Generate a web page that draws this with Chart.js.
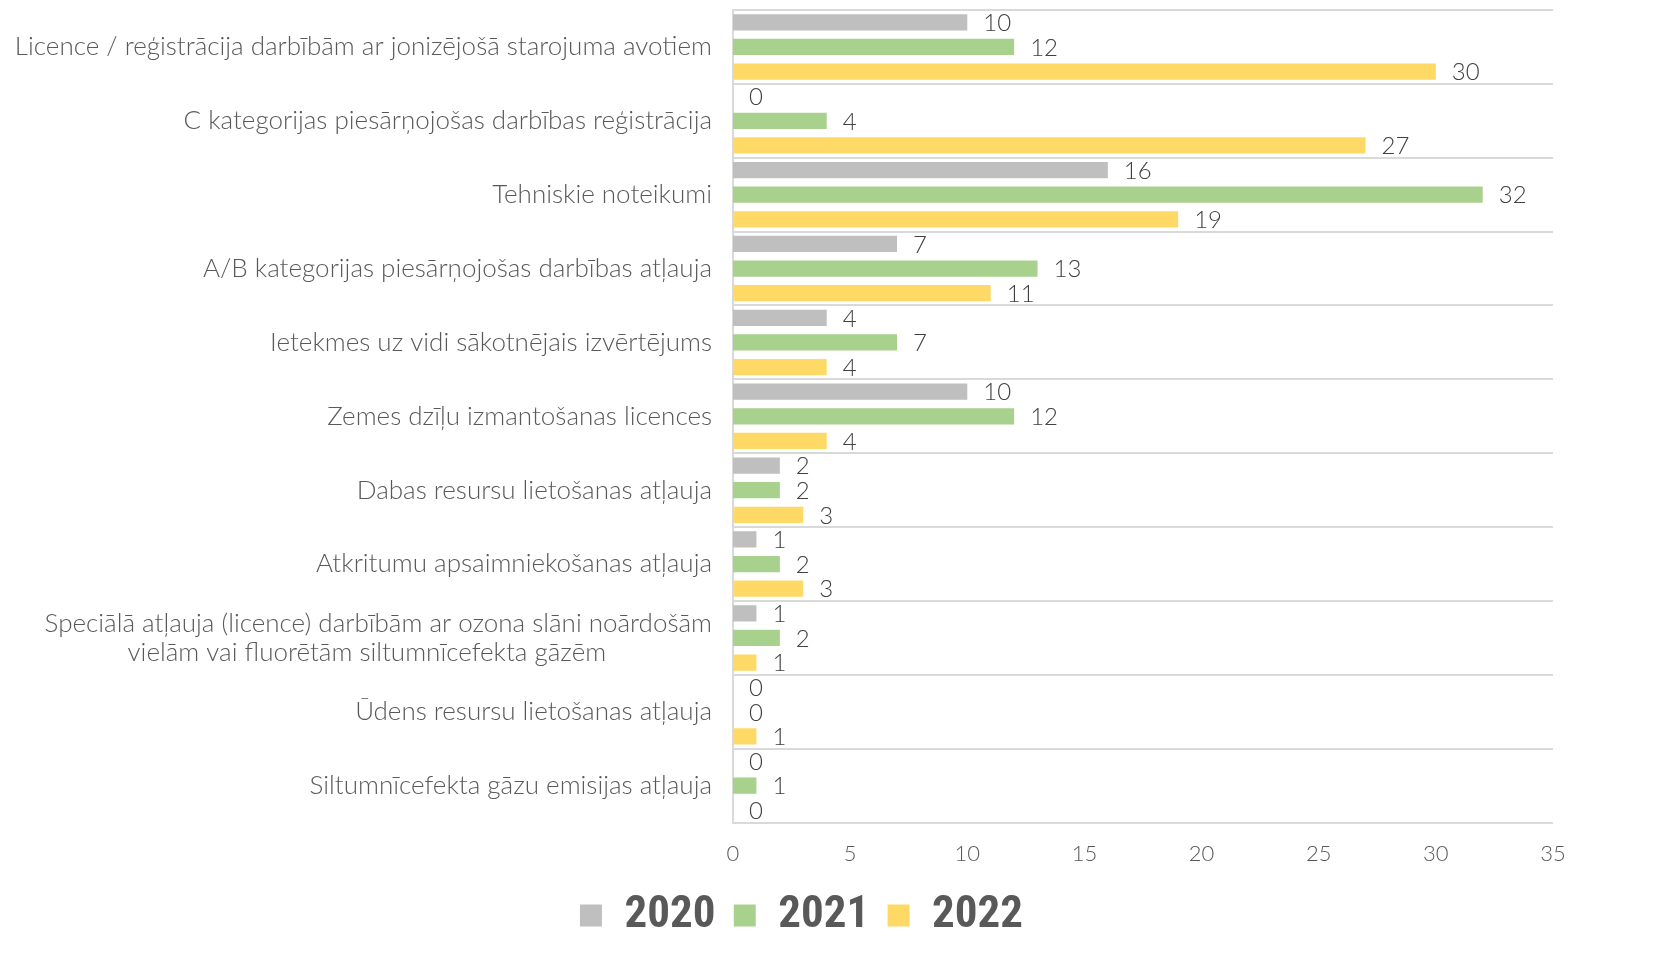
<!DOCTYPE html>
<html>
<head>
<meta charset="utf-8">
<script src="https://cdn.jsdelivr.net/npm/chart.js@4"></script>
<style>
  html, body { margin: 0; padding: 0; background: #ffffff; }
  #wrap { width: 1655px; height: 979px; position: relative; }
</style>
</head>
<body>
<div id="wrap"><canvas id="c"></canvas></div>
<script>
const categories = [
  "Licence / reģistrācija darbībām ar jonizējošā starojuma avotiem",
  "C kategorijas piesārņojošas darbības reģistrācija",
  "Tehniskie noteikumi",
  "A/B kategorijas piesārņojošas darbības atļauja",
  "Ietekmes uz vidi sākotnējais izvērtējums",
  "Zemes dzīļu izmantošanas licences",
  "Dabas resursu lietošanas atļauja",
  "Atkritumu apsaimniekošanas atļauja",
  ["Speciālā atļauja (licence) darbībām ar ozona slāni noārdošām", "vielām vai fluorētām siltumnīcefekta gāzēm" + "\u00a0".repeat(15)],
  "Ūdens resursu lietošanas atļauja",
  "Siltumnīcefekta gāzu emisijas atļauja"
];
const seriesNames = ["2020", "2021", "2022"];
const values2020 = [10, 0, 16, 7, 4, 10, 2, 1, 1, 0, 0];
const values2021 = [12, 4, 32, 13, 7, 12, 2, 2, 2, 0, 1];
const values2022 = [30, 27, 19, 11, 4, 4, 3, 3, 1, 1, 0];
const xTicks = [0, 5, 10, 15, 20, 25, 30, 35];
const colors = ["#BFBFBF", "#A9D18E", "#FFD966"];

const FONT = "'Lato', 'Open Sans', 'Noto Sans', sans-serif";
const TEXT = "#595959";

const valueLabels = {
  id: 'valueLabels',
  afterDatasetsDraw(chart) {
    const ctx = chart.ctx;
    ctx.save();
    ctx.font = "300 24px " + FONT;
    ctx.fillStyle = "#404040";
    ctx.textAlign = "left";
    ctx.textBaseline = "middle";
    chart.data.datasets.forEach((ds, i) => {
      const meta = chart.getDatasetMeta(i);
      meta.data.forEach((bar, j) => {
        ctx.fillText(String(ds.data[j]), bar.x + 16, bar.y + 1);
      });
    });
    ctx.restore();
  }
};

new Chart(document.getElementById('c'), {
  type: 'bar',
  data: {
    labels: categories,
    datasets: [
      { label: seriesNames[0], data: values2020, backgroundColor: colors[0] },
      { label: seriesNames[1], data: values2021, backgroundColor: colors[1] },
      { label: seriesNames[2], data: values2022, backgroundColor: colors[2] }
    ]
  },
  options: {
    indexAxis: 'y',
    responsive: true,
    maintainAspectRatio: false,
    animation: false,
    datasets: { bar: { categoryPercentage: 1.0, barPercentage: 0.66 } },
    layout: { padding: { left: 0, right: 52, top: 10, bottom: 31 } },
    scales: {
      x: {
        min: 0, max: 35,
        afterBuildTicks(scale) { scale.ticks = xTicks.map(v => ({ value: v })); },
        afterFit(scale) { scale.paddingRight = 102; },
        grid: { display: false, drawTicks: false },
        border: { display: false },
        ticks: { color: TEXT, font: { family: FONT, size: 22, weight: '300' }, padding: 18 }
      },
      y: {
        grid: { color: "#D9D9D9", lineWidth: 2, drawTicks: false },
        border: { display: true, color: "#D9D9D9", width: 2 },
        afterFit(scale) { scale.width = 733; scale.paddingTop = 0; scale.paddingBottom = 0; },
        ticks: { color: TEXT, font: { family: FONT, size: 26, weight: '300', lineHeight: 1.1 }, padding: 21, autoSkip: false }
      }
    },
    plugins: {
      legend: {
        position: 'bottom',
        labels: {
          color: TEXT,
          boxWidth: 22, boxHeight: 22,
          padding: 8,
          font: { family: "'Liberation Sans Narrow', 'Roboto Condensed', 'Liberation Sans', sans-serif", size: 45, weight: 'bold' },
          generateLabels(chart) {
            const items = Chart.defaults.plugins.legend.labels.generateLabels(chart);
            return items.map((it, i) => Object.assign(it, { text: i < items.length - 1 ? it.text + "\u00a0" : it.text }));
          }
        }
      },
      tooltip: { enabled: false }
    }
  },
  plugins: [valueLabels]
});
</script>
</body>
</html>
